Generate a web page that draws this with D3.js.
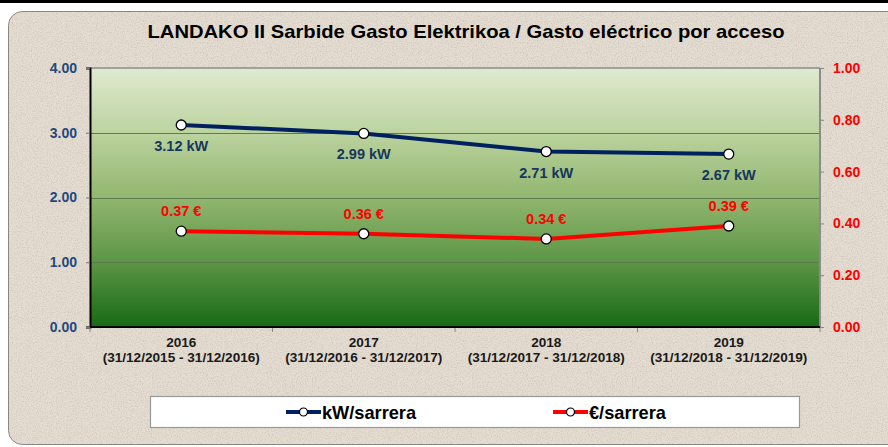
<!DOCTYPE html>
<html><head><meta charset="utf-8">
<script src="https://cdnjs.cloudflare.com/ajax/libs/d3/7.8.5/d3.min.js"></script>
<style>html,body{margin:0;padding:0;background:#fff;overflow:hidden}svg{display:block;font-family:"Liberation Sans",Arial,sans-serif}</style>
</head><body>
<svg id="c" width="888" height="447"></svg>
<script>
const title = "LANDAKO II Sarbide Gasto Elektrikoa / Gasto eléctrico por acceso";
const years = ["2016","2017","2018","2019"];
const periods = ["(31/12/2015 - 31/12/2016)","(31/12/2016 - 31/12/2017)","(31/12/2017 - 31/12/2018)","(31/12/2018 - 31/12/2019)"];
const kwValues = [3.12, 2.99, 2.71, 2.67];
const euroValues = [0.37, 0.36, 0.34, 0.39];
const leftTicks = [0, 1, 2, 3, 4];
const rightTicks = [0, 0.2, 0.4, 0.6, 0.8, 1.0];
const seriesNames = ["kW/sarrera", "€/sarrera"];

const svg = d3.select("#c");
const W = 888, H = 447;
const m = {l: 90, r: 820, t: 68, b: 327};
const defs = svg.append("defs");

// noise texture
const f = defs.append("filter").attr("id","noise").attr("x",0).attr("y",0).attr("width","100%").attr("height","100%");
f.append("feTurbulence").attr("type","fractalNoise").attr("baseFrequency",0.8).attr("numOctaves",2).attr("seed",5).attr("result","t");
f.append("feColorMatrix").attr("in","t").attr("type","matrix")
 .attr("values","0 0 0 0 0.55  0 0 0 0 0.50  0 0 0 0 0.44  0 0 0 -1.6 0.9").attr("result","n");
f.append("feComposite").attr("in","n").attr("in2","SourceGraphic").attr("operator","in");

const g = defs.append("linearGradient").attr("id","pg").attr("x1",0).attr("y1",0).attr("x2",0).attr("y2",1);
[[0,"#dfeacf"],[0.25,"#bcd39f"],[0.5,"#91b66f"],[0.75,"#5c9546"],[1,"#176a14"]].forEach(s=>g.append("stop").attr("offset",s[0]).attr("stop-color",s[1]));

svg.append("rect").attr("width",W).attr("height",H).attr("fill","#fff");
svg.append("rect").attr("x",0).attr("y",0).attr("width",W).attr("height",3).attr("fill","#000");
svg.append("rect").attr("x",8.5).attr("y",11.5).attr("width",900).attr("height",433).attr("rx",14)
  .attr("fill","#e5ddd1").attr("stroke","#8a8580").attr("stroke-width",1);
svg.append("rect").attr("x",9).attr("y",12).attr("width",900).attr("height",432).attr("rx",14)
  .attr("fill","#e5ddd1").attr("filter","url(#noise)");

svg.append("text").attr("x",466).attr("y",38).attr("text-anchor","middle")
  .attr("font-size",18.5).attr("font-weight","bold").attr("fill","#000")
  .attr("textLength",637).attr("lengthAdjust","spacingAndGlyphs").text(title);

const x = d3.scaleBand().domain(years).range([m.l, m.r]);
const yL = d3.scaleLinear().domain([0,4]).range([m.b, m.t]);
const yR = d3.scaleLinear().domain([0,1]).range([m.b, m.t]);

svg.append("rect").attr("x",m.l).attr("y",m.t).attr("width",m.r-m.l).attr("height",m.b-m.t).attr("fill","url(#pg)");

// gridlines
svg.append("g").selectAll("line").data(leftTicks.filter(d=>d>0&&d<4)).join("line")
  .attr("x1",m.l).attr("x2",m.r).attr("y1",d=>Math.round(yL(d))+0.5).attr("y2",d=>Math.round(yL(d))+0.5)
  .attr("stroke","#5f7d4c").attr("stroke-width",1.2);

// frame
svg.append("line").attr("x1",m.l).attr("x2",m.r).attr("y1",m.t).attr("y2",m.t).attr("stroke","#8c8c8c").attr("stroke-width",1.5);
svg.append("line").attr("x1",m.r).attr("x2",m.r).attr("y1",m.t).attr("y2",m.b).attr("stroke","#8c8c8c").attr("stroke-width",2);

// left axis
const la = svg.append("g").attr("transform",`translate(${m.l},0)`)
  .call(d3.axisLeft(yL).tickValues(leftTicks).tickFormat(d3.format(".2f")).tickSize(4).tickPadding(9));
la.select(".domain").attr("stroke","#000").attr("stroke-width",2);
la.selectAll(".tick line").attr("stroke","#777");
la.selectAll("text").attr("font-size",14).attr("font-weight","bold").attr("fill","#1f497d").attr("font-family","Liberation Sans, Arial, sans-serif");

// right axis
const ra = svg.append("g").attr("transform",`translate(${m.r},0)`)
  .call(d3.axisRight(yR).tickValues(rightTicks).tickFormat(d3.format(".2f")).tickSize(4).tickPadding(9));
ra.select(".domain").remove();
ra.selectAll(".tick line").attr("stroke","#888");
ra.selectAll("text").attr("font-size",14).attr("font-weight","bold").attr("fill","#ff0000").attr("font-family","Liberation Sans, Arial, sans-serif");

// bottom axis
const bounds = d3.range(years.length+1).map(i=>m.l + i*x.step());
svg.append("g").selectAll("line").data(bounds).join("line")
  .attr("x1",d=>d).attr("x2",d=>d).attr("y1",m.b).attr("y2",m.b+5).attr("stroke","#888");
svg.append("line").attr("x1",m.l).attr("x2",m.r).attr("y1",m.b).attr("y2",m.b).attr("stroke","#000").attr("stroke-width",2);
const xl = svg.append("g").selectAll("text").data(years).join("text")
  .attr("x",d=>x(d)+x.bandwidth()/2).attr("text-anchor","middle")
  .attr("font-size",13.6).attr("font-weight","bold").attr("fill","#1a1a1a");
xl.append("tspan").attr("x",d=>x(d)+x.bandwidth()/2).attr("y",347).text(d=>d);
xl.append("tspan").attr("x",d=>x(d)+x.bandwidth()/2).attr("y",362).text((d,i)=>periods[i]);

// lines
const cx = d=>x(d)+x.bandwidth()/2;
const lineK = d3.line().x((d,i)=>cx(years[i])).y(d=>yL(d));
const lineE = d3.line().x((d,i)=>cx(years[i])).y(d=>yR(d));
svg.append("path").attr("d",lineK(kwValues)).attr("fill","none").attr("stroke","#002060").attr("stroke-width",4);
svg.append("path").attr("d",lineE(euroValues)).attr("fill","none").attr("stroke","#ff0000").attr("stroke-width",4);
svg.append("g").selectAll("circle").data(kwValues).join("circle")
  .attr("cx",(d,i)=>cx(years[i])).attr("cy",d=>yL(d)).attr("r",5).attr("fill","#fff").attr("stroke","#000").attr("stroke-width",1.3);
svg.append("g").selectAll("circle").data(euroValues).join("circle")
  .attr("cx",(d,i)=>cx(years[i])).attr("cy",d=>yR(d)).attr("r",5).attr("fill","#fff").attr("stroke","#000").attr("stroke-width",1.3);

// data labels
svg.append("g").selectAll("text").data(kwValues).join("text")
  .attr("x",(d,i)=>cx(years[i])).attr("y",d=>yL(d)+26).attr("text-anchor","middle")
  .attr("font-size",14.5).attr("font-weight","bold").attr("fill","#17375e").text(d=>d.toFixed(2)+" kW");
svg.append("g").selectAll("text").data(euroValues).join("text")
  .attr("x",(d,i)=>cx(years[i])).attr("y",d=>yR(d)-15).attr("text-anchor","middle")
  .attr("font-size",14.5).attr("font-weight","bold").attr("fill","#ff0000").text(d=>d.toFixed(2)+" €");

// legend
svg.append("rect").attr("x",150.5).attr("y",396.5).attr("width",649).attr("height",31).attr("fill","#fff").attr("stroke","#999").attr("stroke-width",1.2);
const leg = [{name:seriesNames[0],color:"#002060",x0:286},{name:seriesNames[1],color:"#ff0000",x0:553}];
const lg = svg.append("g").selectAll("g").data(leg).join("g").attr("transform",d=>`translate(${d.x0},412)`);
lg.append("line").attr("x1",0).attr("x2",35).attr("stroke",d=>d.color).attr("stroke-width",4);
lg.append("circle").attr("cx",17.5).attr("r",4).attr("fill","#fff").attr("stroke","#000").attr("stroke-width",1.2);
lg.append("text").attr("x",36).attr("y",6.5).attr("font-size",18.2).attr("font-weight","bold").attr("fill","#000").text(d=>d.name);
</script>
</body></html>
